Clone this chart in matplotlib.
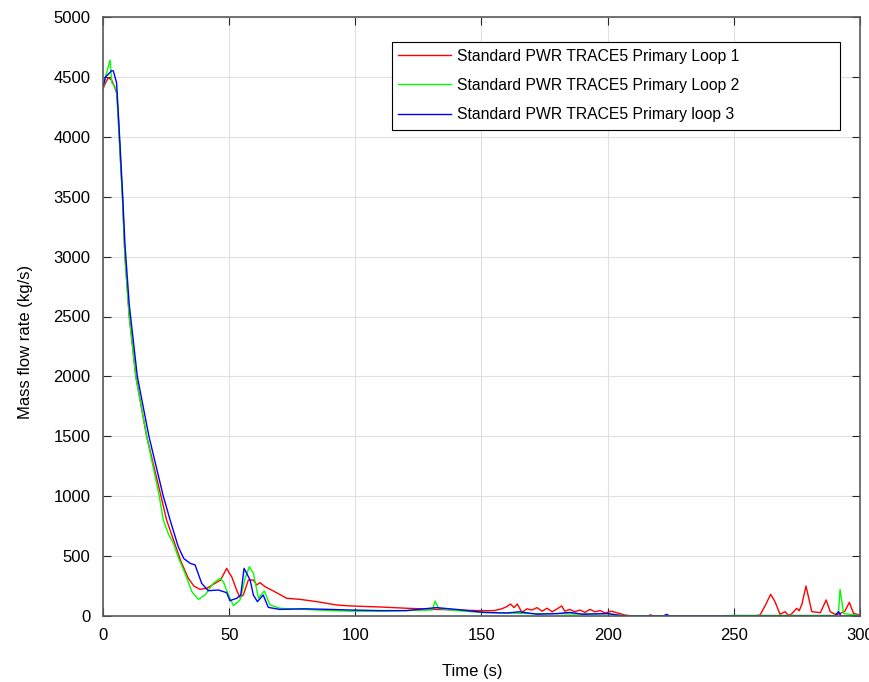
import numpy as np
import matplotlib.pyplot as plt
from matplotlib.patches import Rectangle

plt.rcParams['font.family'] = ['Liberation Sans', 'DejaVu Sans']

# Loop 1 (red)
t1 = [0, 1, 2.1, 3.4, 4.5, 5.4, 6.0, 6.7, 7.7, 8.7, 10.4, 13, 17.3, 23, 25.2, 28.5, 31, 33.8, 36,
      38.4, 41.1, 44.4, 46.6, 49, 50, 51, 53.2, 54.3, 55.6, 57.6, 59.6, 60.9, 62.2, 64.2, 67.5,
      72.8, 78, 84.7, 92.6, 97.9, 110, 120, 130.9, 140, 150.7, 155, 158, 160, 161.5, 162.9, 164.2,
      166, 168, 170, 172, 174, 176, 178, 180, 181.8, 183, 185, 187, 189, 191, 193, 195, 197, 199,
      201.5, 204, 206.8, 210, 216, 217, 218, 258, 260.4, 262.5, 264.6, 266.3, 268.3, 270.3, 271.6,
      273, 274.9, 275.9, 277, 278.6, 280.9, 284.3, 286.6, 288.2, 290.6, 292.2, 294, 295.8, 297.4, 300]
v1 = [4400, 4450, 4494, 4474, 4420, 4366, 4200, 3890, 3500, 3000, 2500, 2000, 1500, 1000, 801, 600,
      450, 315, 250, 223, 231, 273, 300, 398, 360, 328, 203, 156, 175, 300, 300, 259, 278, 245, 209,
      148, 139, 120, 92, 84, 75, 65, 56, 50, 44, 45, 60, 78, 100, 70, 100,
      30, 60, 50, 70, 40, 65, 35, 60, 84, 40, 55, 35, 50, 30, 55, 35, 45, 25,
      40, 25, 8, 0, 0, 10, 0, 0, 8, 90, 181, 120, 14, 36, 5,
      20, 64, 44, 100, 250, 36, 28, 134, 36, 10, 22, 40, 114, 22, 8]

# Loop 2 (green)
t2 = [0, 1, 2.8, 3.5, 4.5, 5.4, 6.7, 7.7, 8.7, 10.4, 13, 17.3, 22.3, 23.9, 26, 27.9, 30, 32.5,
      35.2, 37.8, 40.4, 43.7, 46.4, 47.7, 49.7, 51.7, 54.3, 56.3, 58, 59.6, 61.6, 63.9, 66.2, 70.2,
      80, 90, 98, 110, 120, 130.5, 131.6, 133, 140, 150, 160, 170, 180, 190, 200, 205, 210, 240,
      250, 290, 291.5, 292.1, 293.5, 300]
v2 = [4400, 4500, 4641, 4450, 4430, 4380, 3890, 3500, 3000, 2500, 2000, 1500, 1000, 801, 680, 607,
      480, 356, 203, 139, 175, 273, 315, 286, 175, 86, 134, 315, 412, 356, 148, 209, 92, 64,
      55, 45, 40, 40, 45, 50, 125, 64, 45, 30, 25, 20, 20, 15, 20, 5, 0, 0,
      5, 5, 36, 222, 20, 5]

# Loop 3 (blue)
t3 = [0, 1, 2, 3.4, 4.1, 5.4, 6.7, 7.7, 8.7, 10.4, 13.6, 18.2, 23.9, 26.6, 29.8, 32, 34.5, 36.5,
      39.1, 41.7, 45.7, 49, 50.3, 53, 54.6, 55.9, 58.3, 59.6, 61.2, 63.5, 65.5, 70, 80, 90, 98,
      110, 120, 132.2, 140, 151, 160, 165, 172, 180, 185, 190, 200, 205, 208, 222, 223.4, 224.5,
      290, 291.5, 292.5, 300]
v3 = [4420, 4500, 4520, 4552, 4550, 4449, 3950, 3550, 3100, 2600, 2000, 1500, 1000, 801, 580, 480,
      440, 426, 273, 211, 217, 195, 128, 148, 175, 398, 300, 175, 120, 175, 72, 55, 60, 55, 50,
      45, 45, 70, 55, 30, 25, 35, 15, 20, 30, 15, 20, 5, 0, 0, 14, 0,
      0, 36, 0, 0]

labels = ['Standard PWR TRACE5 Primary Loop 1',
          'Standard PWR TRACE5 Primary Loop 2',
          'Standard PWR TRACE5 Primary loop 3']

fig = plt.figure(figsize=(8.7, 6.82), dpi=100)
ax = fig.add_axes([103/870, 66/682, 757/870, 599/682])

ax.plot(t1, v1, color='#ff0000', lw=1, label=labels[0])
ax.plot(t2, v2, color='#00ff00', lw=1, label=labels[1])
ax.plot(t3, v3, color='#0000ff', lw=1, label=labels[2])

ax.set_xlim(0, 300)
ax.set_ylim(0, 5000)
ax.set_xticks(np.arange(0, 301, 50))
ax.set_yticks(np.arange(0, 5001, 500))
ax.grid(True, color='#e0e0e0', lw=0.8)
ax.set_axisbelow(True)
ax.tick_params(direction='in', top=True, right=True, labelsize=12, length=6, color='#262626')
ax.tick_params(axis='x', pad=8.5)
ax.tick_params(axis='y', pad=9)
for s in ax.spines.values():
    s.set_color('#5a5a5a')
    s.set_linewidth(1.2)

ax.set_xlabel('Time (s)', fontsize=12, va='center')
ax.set_ylabel('Mass flow rate (kg/s)', fontsize=12, va='center')
ax.xaxis.set_label_coords(0.488, -0.092)
ax.yaxis.set_label_coords(-0.103, 0.457)

# legend box (MATLAB style, wide frame)
ax.add_patch(Rectangle((0.3818, 0.8114), 0.9736 - 0.3818, 0.958 - 0.8114, transform=ax.transAxes,
                       facecolor='white', edgecolor='black', lw=0.8, zorder=4))
leg = ax.legend(loc='upper left', bbox_to_anchor=(0.3897, 0.947), fontsize=11.3,
                handlelength=3.35, handletextpad=0.4, frameon=False,
                borderaxespad=0, labelspacing=0.9, borderpad=0)
leg.set_zorder(5)

fig.savefig('out.png', dpi=100)
